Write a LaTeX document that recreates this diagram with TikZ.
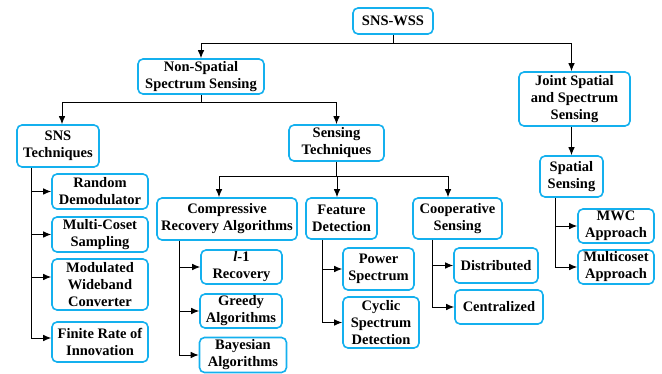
\documentclass[tikz,border=0pt]{standalone}
\usepackage{fontspec}
\setmainfont{LiberationSerif}[Extension=.ttf, UprightFont=*-Regular, BoldFont=*-Bold, ItalicFont=*-Italic, BoldItalicFont=*-BoldItalic]
\usetikzlibrary{arrows.meta}
\definecolor{boxc}{RGB}{20,176,238}
\tikzset{
  x=1pt,y=-1pt,
  box/.style={draw=boxc, line width=1.6pt, rounded corners=5pt, fill=white, align=center,
    inner sep=0pt, font=\fontsize{14.5}{17}\selectfont\bfseries},
  conn/.style={line width=0.9pt, black},
  arr/.style={conn, -{Latex[length=8pt,width=6.5pt]}}
}
\begin{document}
\begin{tikzpicture}
\useasboundingbox (0,0) rectangle (662,374);
% nodes
\node[box, minimum width=80pt, minimum height=26pt] (root) at (393,21) {SNS-WSS};
\node[box, minimum width=126pt, minimum height=35pt] (nss) at (201,76.5) {Non-Spatial\\Spectrum Sensing};
\node[box, minimum width=111pt, minimum height=54pt] (joint) at (574.5,99) {Joint Spatial\\and Spectrum\\Sensing};
\node[box, minimum width=63pt, minimum height=41pt] (spat) at (571.5,176.5) {Spatial\\Sensing};
\node[box, minimum width=82pt, minimum height=42pt] (snst) at (58,146) {SNS\\Techniques};
\node[box, minimum width=95pt, minimum height=36pt] (sens) at (336.5,143) {Sensing\\Techniques};
\node[box, minimum width=96pt, minimum height=35pt] (rd) at (100,191.5) {Random\\Demodulator};
\node[box, minimum width=96pt, minimum height=35pt] (mcs) at (100,234.5) {Multi-Coset\\Sampling};
\node[box, minimum width=96pt, minimum height=51pt] (mwc) at (100,284.5) {Modulated\\Wideband\\Converter};
\node[box, minimum width=96pt, minimum height=40pt] (fri) at (100,342) {Finite Rate of\\Innovation};
\node[box, minimum width=140pt, minimum height=42pt] (cra) at (227,219) {Compressive\\Recovery Algorithms};
\node[box, minimum width=71pt, minimum height=41pt] (fd) at (341.5,218.5) {Feature\\Detection};
\node[box, minimum width=89pt, minimum height=41pt] (coop) at (457.5,218.5) {Cooperative\\Sensing};
\node[box, minimum width=81pt, minimum height=34pt] (l1) at (241.5,267) {\textit{l}-1\\Recovery};
\node[box, minimum width=82pt, minimum height=34pt] (greedy) at (241,311) {Greedy\\Algorithms};
\node[box, minimum width=87pt, minimum height=35pt] (bayes) at (243,355) {Bayesian\\Algorithms};
\node[box, minimum width=71pt, minimum height=42pt] (ps) at (378.5,269) {Power\\Spectrum};
\node[box, minimum width=76pt, minimum height=51pt] (csd) at (381,322.5) {Cyclic\\Spectrum\\Detection};
\node[box, minimum width=84pt, minimum height=35pt] (dist) at (496,265.5) {Distributed};
\node[box, minimum width=88pt, minimum height=34pt] (cent) at (499,307) {Centralized};
\node[box, minimum width=76pt, minimum height=34pt] (mwca) at (616,226) {MWC\\Approach};
\node[box, minimum width=76pt, minimum height=34pt] (mca) at (616,267) {Multicoset\\Approach};
% level 1
\coordinate (j0) at ([yshift=-9pt]root.south);
\draw[conn] (root.south) -- (j0);
\draw[arr] (j0) -| (nss.north);
\draw[arr] (j0) -| (spat.north |- joint.north);
\draw[arr] (spat.north |- joint.south) -- (spat.north);
% level 2
\coordinate (j1) at ([yshift=-8pt]nss.south);
\draw[conn] (nss.south) -- (j1);
\draw[arr] (j1) -| ([xshift=4pt]snst.north);
\draw[arr] (j1) -| (sens.north);
% sensing techniques
\coordinate (j2) at ([yshift=-15pt]sens.south);
\draw[conn] (sens.south) -- (j2);
\draw[arr] (j2) -| ([xshift=-8pt]cra.north);
\draw[arr] (j2) -| ([xshift=-4.5pt]fd.north);
\draw[arr] (j2) -| ([xshift=-9.5pt]coop.north);
% SNS techniques trunk
\coordinate (t1) at ([xshift=-27pt]snst.south);
\draw[arr] (t1) |- (rd.west);
\draw[arr] (t1) |- (mcs.west);
\draw[arr] (t1) |- ([yshift=7.5pt]mwc.west);
\draw[arr] (t1) |- ([yshift=4pt]fri.west);
% CRA trunk
\coordinate (t2) at ([xshift=-48pt]cra.south);
\draw[arr] (t2) |- (l1.west);
\draw[arr] (t2) |- (greedy.west);
\draw[arr] (t2) |- (bayes.west);
% FD trunk
\coordinate (t3) at ([xshift=-19.5pt]fd.south);
\draw[arr] (t3) |- (ps.west);
\draw[arr] (t3) |- (csd.west);
% Coop trunk
\coordinate (t4) at ([xshift=-25.5pt]coop.south);
\draw[arr] (t4) |- (dist.west);
\draw[arr] (t4) |- (cent.west);
% Spatial trunk
\coordinate (t5) at ([xshift=-16.5pt]spat.south);
\draw[arr] (t5) |- (mwca.west);
\draw[arr] (t5) |- (mca.west);
\end{tikzpicture}
\end{document}
